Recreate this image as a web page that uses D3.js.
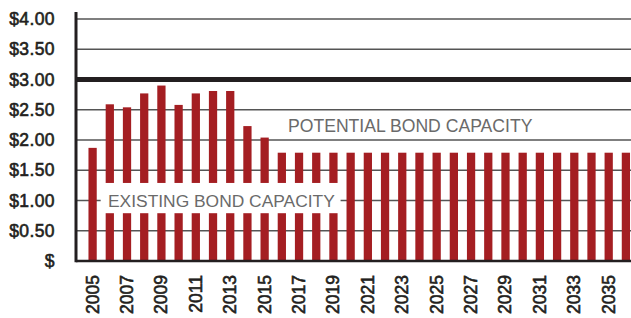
<!DOCTYPE html>
<html><head><meta charset="utf-8">
<script src="https://cdn.jsdelivr.net/npm/d3@7"></script>
<style>html,body{margin:0;padding:0;background:#fff;}svg{display:block;}</style>
</head><body>
<svg id="c" width="631" height="318"></svg>
<script>
const years = d3.range(2005, 2037);
const values = [1.87, 2.59, 2.54, 2.77, 2.90, 2.58, 2.77, 2.81, 2.81, 2.23, 2.04,
  1.79, 1.79, 1.79, 1.79, 1.79, 1.79, 1.79, 1.79, 1.79, 1.79, 1.79, 1.79, 1.79,
  1.79, 1.79, 1.79, 1.79, 1.79, 1.79, 1.79, 1.79];
const yTicks = [0, 0.5, 1, 1.5, 2, 2.5, 3, 3.5, 4];
const yTickLabels = ["$", "$0.50", "$1.00", "$1.50", "$2.00", "$2.50", "$3.00", "$3.50", "$4.00"];
const xTickLabels = d3.range(2005, 2037, 2);
const capacityLine = 3.0;
const existingLabel = "EXISTING BOND CAPACITY";
const potentialLabel = "POTENTIAL BOND CAPACITY";

const svg = d3.select("#c");
const x = d3.scaleBand().domain(years).range([84, 634.5]).paddingInner(0.52).paddingOuter(0.26);
const y = d3.scaleLinear().domain([0, 4]).range([261, 19]);
const left = 76, right = 631;
const font = "'Liberation Sans', Arial, Helvetica, sans-serif";

// gridlines
svg.append("g").selectAll("line").data(yTicks.filter(d => d > 0 && d !== capacityLine)).join("line")
  .attr("x1", left).attr("x2", right).attr("y1", d => y(d)).attr("y2", d => y(d))
  .attr("stroke", "#555").attr("stroke-width", 1.3);

// bars
svg.append("g").selectAll("rect").data(years).join("rect")
  .attr("x", (d) => x(d)).attr("width", x.bandwidth())
  .attr("y", (d, i) => y(values[i])).attr("height", (d, i) => y(0) - y(values[i]))
  .attr("fill", "#a41e22");

// capacity line
svg.append("line").attr("x1", left).attr("x2", right)
  .attr("y1", y(capacityLine)).attr("y2", y(capacityLine))
  .attr("stroke", "#231f20").attr("stroke-width", 5);

// existing label box
const bx0 = x(2006) - 5, bx1 = x(2019) + x.bandwidth() + 3;
svg.append("rect").attr("x", bx0).attr("y", y(1.29)).attr("width", bx1 - bx0)
  .attr("height", y(0.79) - y(1.29)).attr("fill", "#fff");
svg.append("text").attr("x", 108).attr("y", y(1.0) + 6.5)
  .attr("font-family", font).attr("font-size", 17.4).attr("fill", "#6a6a6a")
  .text(existingLabel);
svg.append("text").attr("x", 288).attr("y", 132)
  .attr("font-family", font).attr("font-size", 17.6).attr("fill", "#6a6a6a")
  .text(potentialLabel);

// axes lines
svg.append("line").attr("x1", left).attr("x2", right).attr("y1", y(0)).attr("y2", y(0))
  .attr("stroke", "#231f20").attr("stroke-width", 2.5);
svg.append("line").attr("x1", left).attr("x2", left).attr("y1", 12).attr("y2", y(0) + 1.25)
  .attr("stroke", "#231f20").attr("stroke-width", 3);

// y labels
svg.append("g").selectAll("text").data(yTicks).join("text")
  .attr("x", 55).attr("y", d => y(d) + 6).attr("text-anchor", "end")
  .attr("font-family", font).attr("font-size", 17.5)
  .attr("fill", "#231f20").attr("stroke", "#231f20").attr("stroke-width", 0.6)
  .attr("letter-spacing", 0.4)
  .text((d, i) => yTickLabels[i]);

// x labels
svg.append("g").selectAll("text").data(xTickLabels).join("text")
  .attr("transform", d => `translate(${x(d) + x.bandwidth() / 2 + 6},275) rotate(-90)`)
  .attr("text-anchor", "end")
  .attr("font-family", font).attr("font-size", 17.5)
  .attr("fill", "#231f20").attr("stroke", "#231f20").attr("stroke-width", 0.6)
  .text(d => d);
</script>
</body></html>
